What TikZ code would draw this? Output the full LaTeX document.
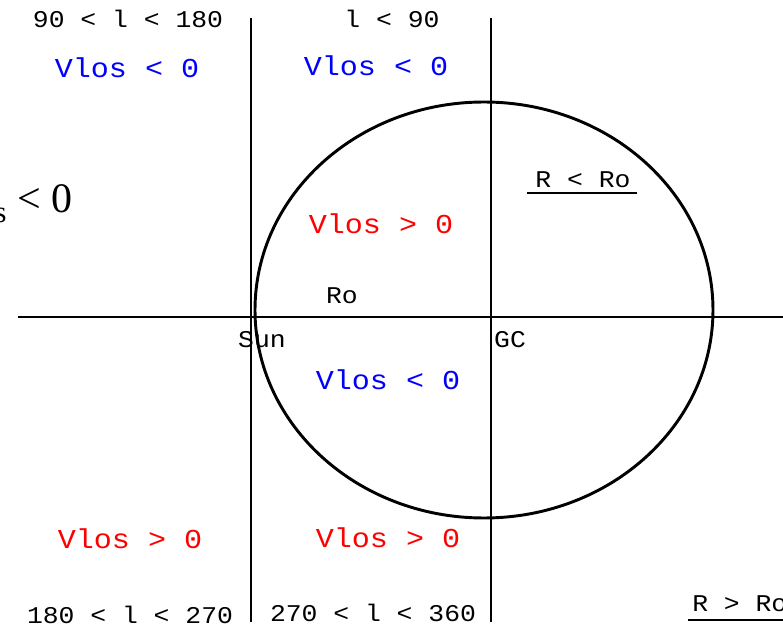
\documentclass[tikz,border=0pt]{standalone}
\usepackage{fontspec}
\setmonofont{Liberation Mono}[FakeStretch=1.1]
\newfontfamily\timesfont{Liberation Serif}

\begin{document}
\begin{tikzpicture}[
  x=0.75pt, y=-0.75pt,
  axis/.style={line width=2.2pt},
  lbl/.style={font=\ttfamily\fontsize{18}{20}\selectfont, inner sep=0pt, anchor=base},
  vneg/.style={font=\ttfamily\fontsize{20.5}{22}\selectfont, inner sep=0pt,
    anchor=base, text=blue},
  vpos/.style={vneg, text=red}
]
  \useasboundingbox (0,0) rectangle (783,631);
  \clip (0,0) rectangle (783,631);

  % axes through Sun and GC, circle of radius Ro
  \coordinate (sun) at (251,317);
  \coordinate (gc) at (491,317);
  \draw[axis] (18,317) -- (790,317);
  \draw[axis] (251,18) -- (251,622);
  \draw[axis] (491,18) -- (491,622);
  \draw[axis] (484,310) ellipse [x radius=229, y radius=208];

  % longitude ranges
  \node[lbl] (q2) at (128,28) {90 < l < 180};
  \node[lbl] (q1) at (392,28) {l < 90};
  \node[lbl] (q3) at (130,623) {180 < l < 270};
  \node[lbl] (q4) at (373,621) {270 < l < 360};

  % line-of-sight velocity signs
  \node[vneg] (v2) at (127,78) {Vlos < 0};
  \node[vneg] (v1) at (376,76) {Vlos < 0};
  \node[vpos] (v1in) at (381,234) {Vlos > 0};
  \node[vneg] (v4in) at (388,390) {Vlos < 0};
  \node[vpos] (v3) at (130,548) {Vlos > 0};
  \node[vpos] (v4) at (388,547) {Vlos > 0};
  \node[anchor=base east, inner sep=0pt, font=\timesfont\fontsize{31.5}{34}\selectfont]
    (vcut) at (72.5,213)
    {V{\fontsize{23}{24}\selectfont\raisebox{-7.5pt}{los}} < 0};

  % points and radii
  \node[lbl] (ro) at (342,304) {Ro};
  \node[lbl] (sunl) at (262,348) {Sun};
  \node[lbl] (gcl) at (510,348) {GC};
  \node[lbl] (rin) at (583,188) {R < Ro};
  \draw[axis] (527,193) -- (637,193);
  \node[lbl, anchor=base west] (rout) at (692,611) {R > Ro};
  \draw[axis] (688,620) -- (790,620);
\end{tikzpicture}
\end{document}
